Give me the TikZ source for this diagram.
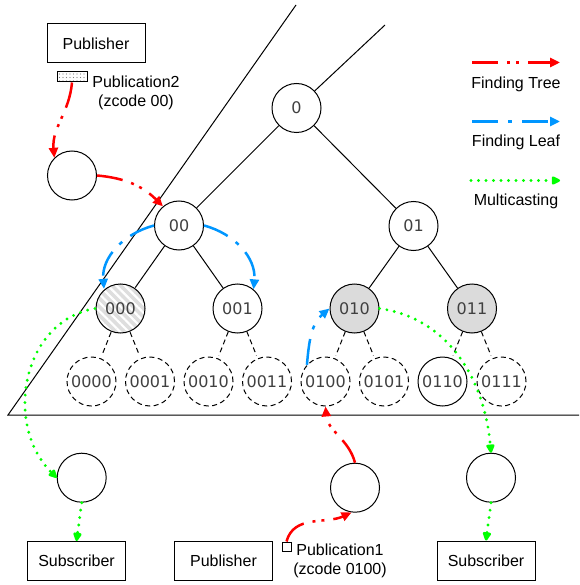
\documentclass[tikz,border=0pt]{standalone}
\usepackage{fontspec}
\setmainfont{Liberation Sans}
\newfontfamily\numfont{DejaVu Sans}
\usetikzlibrary{arrows.meta,patterns.meta}

\definecolor{treered}{RGB}{255,0,0}
\definecolor{leafblue}{RGB}{0,150,255}
\definecolor{multigreen}{RGB}{0,255,0}

\tikzset{
  zone/.style={circle, draw, line width=1pt, minimum size=49pt, inner sep=0pt,
    font=\numfont\fontsize{16}{16}\selectfont, text=black!75},
  leafzone/.style={zone, dash pattern=on 5pt off 3.5pt},
  relay/.style={circle, draw, line width=1pt, minimum size=49pt, inner sep=0pt},
  party/.style={draw, line width=1pt, minimum width=98pt, minimum height=39pt, inner sep=0pt},
  findtree/.style={treered, line width=2.5pt,
    dash pattern=on 26pt off 9pt on 3pt off 6pt on 3pt off 9pt,
    -{Triangle[length=10pt,width=9pt]}},
  findleaf/.style={leafblue, line width=2.5pt,
    dash pattern=on 26pt off 10pt on 4pt off 10pt,
    -{Triangle[length=10pt,width=9pt]}},
  multicast/.style={multigreen, line width=3.2pt, line cap=round,
    dash pattern=on 0pt off 7.5pt,
    -{Triangle[length=10pt,width=9pt,round=false]}},
}

\begin{document}
\begin{tikzpicture}[x=1pt, y=-1pt, line width=1pt, font=\fontsize{16}{19}\selectfont]
  \useasboundingbox (0,0) rectangle (579,585);

  % Border of the tree region
  \coordinate (apex) at (296,5);
  \coordinate (corner) at (8,415);
  \coordinate (floorend) at (579,415);
  \draw (apex) -- (corner) -- (floorend);

  % Tree nodes
  \node[zone] (n0) at (296.5,108) {0};
  \node[zone] (n00) at (179,225.5) {00};
  \node[zone] (n01) at (413.5,226) {01};
  \node[zone, preaction={fill=black!13}, pattern={Lines[angle=-45,distance=6pt,line width=2.2pt]},
    pattern color=white] (n000) at (120.5,308.5) {000};
  \node[zone] (n001) at (237.5,308.5) {001};
  \node[zone, fill=black!14] (n010) at (354.5,308.5) {010};
  \node[zone, fill=black!14] (n011) at (472,308.5) {011};

  % Leaves
  \foreach \lab/\x in {0000/91.5, 0001/150, 0010/208.5, 0011/267, 0100/325.5, 0101/384, 0111/501.5} {
    \node[leafzone] (n\lab) at (\x,381.5) {\lab};
  }
  \node[zone] (n0110) at (442.5,381.5) {0110};

  % Tree edges
  \coordinate (rootup) at (385,25);
  \draw (n0) -- (rootup);
  \draw (n0) -- (n00);
  \draw (n0) -- (n01);
  \draw (n00) -- (n000);
  \draw (n00) -- (n001);
  \draw (n01) -- (n010);
  \draw (n01) -- (n011);
  \foreach \p/\c in {000/0000, 000/0001, 001/0010, 001/0011, 010/0100, 010/0101, 011/0110, 011/0111} {
    \draw[dash pattern=on 5pt off 3.5pt, shorten >=3pt] (n\p) -- (n\c);
  }

  % Publishers, subscribers and relays
  \node[party] (pubtop) at (96,43.5) {Publisher};
  \node[draw, line width=1pt, minimum width=30pt, minimum height=10pt, inner sep=0pt, fill=white,
    pattern={Dots[distance=3.5pt,radius=0.6pt]}, pattern color=gray] (tag2) at (72,77) {};
  \node[align=center, inner sep=0pt] (pub2) at (136,93) {Publication2\\(zcode 00)};
  \node[relay] (relayA) at (72,175.5) {};

  \node[relay] (relayB) at (81.7,477.7) {};
  \node[relay] (relayC) at (355,487.7) {};
  \node[relay] (relayD) at (491,477.7) {};
  \node[party] (subleft) at (76.5,561) {Subscriber};
  \node[party] (pubbot) at (223.5,561) {Publisher};
  \node[party] (subright) at (486,560.5) {Subscriber};
  \node[draw, line width=1pt, minimum size=9pt, inner sep=0pt] (tag1) at (286.5,546.5) {};
  \node[align=center, inner sep=0pt] (pub1) at (340,561) {Publication1\\(zcode 0100)};

  % Finding tree
  \draw[findtree] (tag2.south) to[out=-95, in=95] (relayA.135);
  \draw[findtree] (relayA.east) to[out=-5, in=135] (n00.130);
  \draw[findtree] (tag1.north) to[out=75, in=205] (relayC.262);
  \draw[findtree] (relayC.north) to[out=105, in=-85] (n0100.south);

  % Finding leaf
  \draw[findleaf] (n00.west) to[out=195, in=95] (n000.130);
  \draw[findleaf] (n00.east) to[out=-15, in=85] (n001.50);
  \draw[findleaf] (n0100.138) to[out=85, in=220] (n010.west);

  % Multicasting
  \draw[multicast] (n000.west) to[out=190, in=135, looseness=1.1] (relayB.west);
  \draw[multicast] (relayB.south) -- (subleft.north);
  \draw[multicast] (n010.east) to[out=-8, in=95] (relayD.north);
  \draw[multicast] (relayD.south) -- (subright.north);

  % Legend
  \coordinate (lt1) at (472,62.5);
  \coordinate (lt2) at (560,62.5);
  \coordinate (ll1) at (472,121.5);
  \coordinate (ll2) at (560,121.5);
  \coordinate (lm1) at (471,180.5);
  \coordinate (lm2) at (560,180.5);
  \draw[findtree] (lt1) -- (lt2);
  \draw[findleaf] (ll1) -- (ll2);
  \draw[multicast] (lm1) -- (lm2);
  \node (lgtree) at (516,84) {Finding Tree};
  \node (lgleaf) at (516,142) {Finding Leaf};
  \node (lgmulti) at (516,201) {Multicasting};
\end{tikzpicture}
\end{document}
